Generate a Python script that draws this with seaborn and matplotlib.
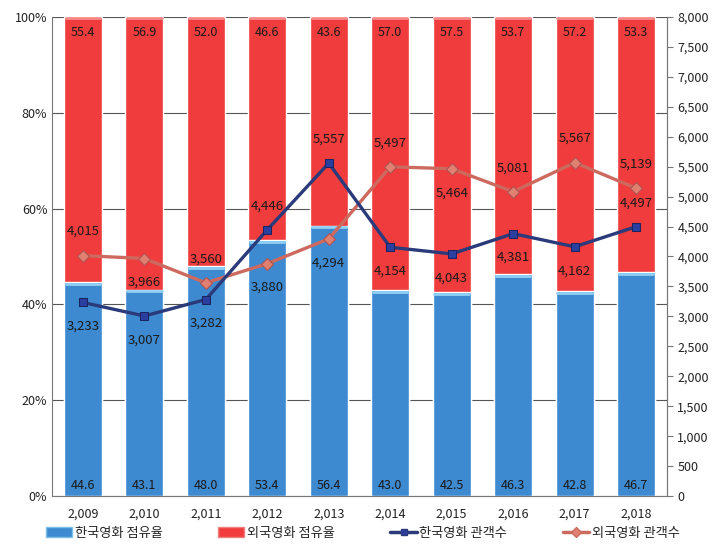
import numpy as np
import pandas as pd
import matplotlib
matplotlib.use("Agg")
import matplotlib.pyplot as plt
import seaborn as sns
from matplotlib.patches import Patch
from matplotlib.lines import Line2D

years = ["2,009", "2,010", "2,011", "2,012", "2,013", "2,014", "2,015", "2,016", "2,017", "2,018"]
kor_share = [44.6, 43.1, 48.0, 53.4, 56.4, 43.0, 42.5, 46.3, 42.8, 46.7]
for_share = [55.4, 56.9, 52.0, 46.6, 43.6, 57.0, 57.5, 53.7, 57.2, 53.3]
kor_aud = [3233, 3007, 3282, 4446, 5557, 4154, 4043, 4381, 4162, 4497]
for_aud = [4015, 3966, 3560, 3880, 4294, 5497, 5464, 5081, 5567, 5139]
# label placement: +1 above, -1 below
kor_pos = [-1, -1, -1, 1, 1, -1, -1, -1, -1, 1]
for_pos = [1, -1, 1, -1, -1, 1, -1, 1, 1, 1]
legend_labels = ["한국영화 점유율", "외국영화 점유율", "한국영화 관객수", "외국영화 관객수"]

sns.set_style("white")
plt.rcParams['font.family'] = ['Noto Sans CJK KR', 'DejaVu Sans']

BLUE = "#3d8ad0"
RED = "#f03c3c"
NAVY = "#2b3a7a"
ROSE = "#cd6a60"

df = pd.DataFrame({"year": years, "kor": kor_share, "forn": for_share})
df["total"] = df["kor"] + df["forn"]

fig = plt.figure(figsize=(7.14, 5.6), dpi=100)
ax = fig.add_axes([0.073, 0.114, 0.861, 0.856])

sns.barplot(data=df, x="year", y="total", color=RED, saturation=1, width=0.62, ax=ax, zorder=2)
sns.barplot(data=df, x="year", y="kor", color=BLUE, saturation=1, width=0.62, ax=ax, zorder=3)

# subtle gloss strip at top of each segment
for p in ax.patches:
    x0, w, top = p.get_x(), p.get_width(), p.get_y() + p.get_height()
    fc = p.get_facecolor()
    light = "#8fd0f4" if fc[2] > 0.5 else "#f88a8a"
    ax.plot([x0 + 0.03, x0 + w - 0.03], [top - 0.35, top - 0.35], color=light, lw=2.0,
            solid_capstyle="round", zorder=p.get_zorder() + 0.1)

ax.set_ylim(0, 100)
ax.set_xlim(-0.5, len(years) - 0.5)
ax.set_yticks(np.arange(0, 101, 20))
ax.set_yticklabels([f"{v}%" for v in range(0, 101, 20)])
ax.yaxis.grid(True, color="#555555", linewidth=0.8, zorder=0)
ax.set_axisbelow(True)
ax.set_xlabel("")
ax.set_ylabel("")
ax.tick_params(axis="both", labelsize=9, colors="#222222", length=0)
ax.tick_params(axis="x", pad=8)
ax.set_xticks(np.arange(len(years)))
ax.set_xticklabels(years)
ax.spines["top"].set_visible(False)
for s in ["left", "bottom", "right"]:
    ax.spines[s].set_color("#777777")
    ax.spines[s].set_linewidth(0.8)
ax.set_xticks(np.arange(-0.5, len(years), 1), minor=True)
ax.tick_params(axis="x", which="minor", length=4, color="#777777")

for i in range(len(years)):
    ax.text(i, 2.3, f"{kor_share[i]:.1f}", ha="center", va="center", fontsize=9, color="#1a1a1a", zorder=6)
    ax.text(i, 96.7, f"{for_share[i]:.1f}", ha="center", va="center", fontsize=9, color="#1a1a1a", zorder=6)

ax2 = ax.twinx()
x = np.arange(len(years))
sns.lineplot(x=x, y=for_aud, color=ROSE, linewidth=2.4, marker="D", markersize=6,
             markerfacecolor="#e08070", markeredgecolor="#b05050", ax=ax2, zorder=4)
sns.lineplot(x=x, y=kor_aud, color=NAVY, linewidth=2.4, marker="s", markersize=6,
             markerfacecolor="#2a3fa0", markeredgecolor="#1a2560", ax=ax2, zorder=5)
ax2.set_ylim(0, 8000)
ax2.set_xlim(-0.5, len(years) - 0.5)
ax2.set_yticks(np.arange(0, 8001, 500))
ax2.set_yticklabels([f"{v:,}" for v in range(0, 8001, 500)])
ax2.tick_params(axis="y", labelsize=9, colors="#222222", length=4, color="#777777")
for s in ["top", "left", "bottom"]:
    ax2.spines[s].set_visible(False)
ax2.spines["right"].set_color("#777777")
ax2.spines["right"].set_linewidth(0.8)

off = 400
for i in range(len(years)):
    ax2.text(i, kor_aud[i] + kor_pos[i] * off, f"{kor_aud[i]:,}", ha="center", va="center",
             fontsize=9.5, color="#1a1a1a", zorder=7)
    ax2.text(i, for_aud[i] + for_pos[i] * off, f"{for_aud[i]:,}", ha="center", va="center",
             fontsize=9.5, color="#1a1a1a", zorder=7)

handles = [
    Patch(facecolor=BLUE, edgecolor="#7fc0ea"),
    Patch(facecolor=RED, edgecolor="#f08080"),
    Line2D([0], [0], color=NAVY, linewidth=2.5, marker="s", markersize=5, markerfacecolor="#2a3fa0"),
    Line2D([0], [0], color=ROSE, linewidth=2.5, marker="D", markersize=5, markerfacecolor="#e08070"),
]
fig.legend(handles, legend_labels, loc="center", bbox_to_anchor=(0.508, 0.048), ncol=4,
           frameon=False, fontsize=9.5, columnspacing=4.2, handlelength=2.0, handletextpad=0.2)

fig.savefig("out.png", dpi=100)
